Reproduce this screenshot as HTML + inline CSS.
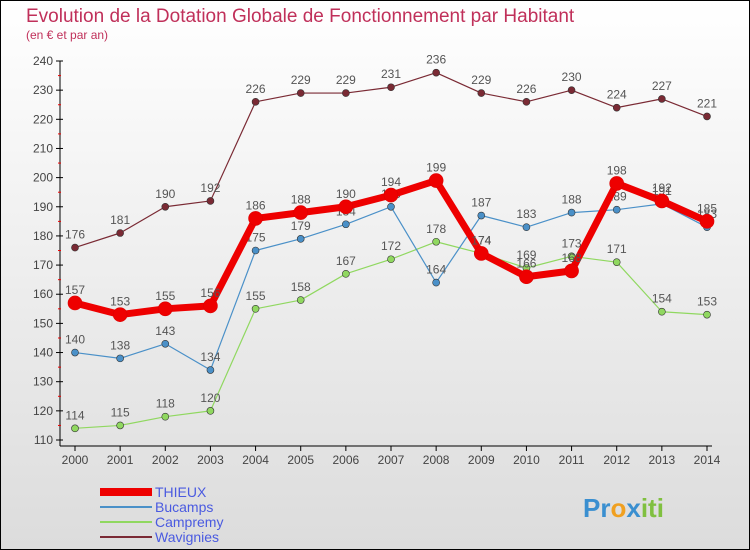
<!DOCTYPE html>
<html><head><meta charset="utf-8"><style>
body{margin:0;width:750px;height:550px;overflow:hidden;font-family:"Liberation Sans",sans-serif}
</style></head><body>
<svg id="c" width="750" height="550" style="display:block">
<defs><linearGradient id="bg" x1="0" y1="0" x2="0" y2="1"><stop offset="0" stop-color="#ffffff"/><stop offset="1" stop-color="#dcdcdc"/></linearGradient></defs>
<rect x="0.5" y="0.5" width="749" height="549" fill="url(#bg)" stroke="#000"/>
<text x="26" y="22" font-size="19" fill="#c0305a">Evolution de la Dotation Globale de Fonctionnement par Habitant</text>
<text x="26" y="39" font-size="12" fill="#c0305a">(en € et par an)</text>
<g id="axes"></g><g id="series"></g><g id="legend"></g>
<text x="583" y="517" font-size="26" font-weight="bold" fill="#f0a020"><tspan fill="#3a8fd0">Pr</tspan><tspan fill="#f0a020">o</tspan><tspan fill="#3a8fd0">x</tspan><tspan fill="#80c040">iti</tspan></text>
</svg>
<script>
const years=["2000","2001","2002","2003","2004","2005","2006","2007","2008","2009","2010","2011","2012","2013","2014"];
const yTicks=[110,120,130,140,150,160,170,180,190,200,210,220,230,240];
const thieux=[157,153,155,156,186,188,190,194,199,174,166,168,198,192,185];
const bucamps=[140,138,143,134,175,179,184,190,164,187,183,188,189,191,183];
const campremy=[114,115,118,120,155,158,167,172,178,174,169,173,171,154,153];
const wavignies=[176,181,190,192,226,229,229,231,236,229,226,230,224,227,221];
const NS="http://www.w3.org/2000/svg";
const X=i=>75+i*(707-75)/14;
const Y=v=>440-(v-110)*(440-61)/130;
function mk(t,a,p){const e=document.createElementNS(NS,t);for(const k in a)e.setAttribute(k,a[k]);p.appendChild(e);return e;}
const ax=document.getElementById('axes');
const yl=mk('line',{x1:60,y1:61,x2:60,y2:446,stroke:'#000'},ax);


const xl=mk('line',{x1:60,y1:446,x2:712,y2:446,stroke:'#000'},ax);


yTicks.forEach(v=>{const y=Y(v);
mk('line',{x1:56,y1:y,x2:63,y2:y,stroke:'#000'},ax);
if(v>110)mk('line',{x1:58,y1:y+14.6,x2:61,y2:y+14.6,stroke:'#e00'},ax);
const t=mk('text',{x:53,y:y+4,'font-size':12,'text-anchor':'end',fill:'#444'},ax);t.textContent=v;

});
years.forEach((yr,i)=>{const x=X(i);mk('line',{x1:x,y1:446,x2:x,y2:451,stroke:'#000'},ax);
const t=mk('text',{x:x,y:464,'font-size':12,'text-anchor':'middle',fill:'#444'},ax);t.textContent=yr;

});
const S=document.getElementById('series');
const series=[["Wavignies",wavignies,"#7a2a34",1.2,3.5],["Campremy",campremy,"#90d860",1.2,3.5],["Bucamps",bucamps,"#4a90c8",1.2,3.5],["THIEUX",thieux,"#ee0000",7,7]];
series.forEach(([n,d,c,w,r])=>{const g=mk('g',{},S);


mk('polyline',{points:d.map((v,i)=>X(i)+','+Y(v)).join(' '),fill:'none',stroke:c,'stroke-width':w,'stroke-linejoin':'round'},g);
d.forEach((v,i)=>{const p=mk('circle',{cx:X(i),cy:Y(v),r:r,fill:c,stroke:n=="THIEUX"?'#d00':'#333','stroke-width':0.6},g);


const t=mk('text',{x:X(i),y:Y(v)-9,'font-size':12,'text-anchor':'middle',fill:'#555'},g);t.textContent=v;

});});
const L=document.getElementById('legend');
[["THIEUX","#ee0000",8],["Bucamps","#4a90c8",2],["Campremy","#90d860",2],["Wavignies","#7a2a34",2]].forEach(([n,c,w],i)=>{const y=492+i*15;
const g=mk('g',{},L);


mk('line',{x1:100,y1:y,x2:152,y2:y,stroke:c,'stroke-width':w},g);
const t=mk('text',{x:155,y:y+5,'font-size':14,fill:'#4a5ae0'},g);t.textContent=n;});
</script>
</body></html>
